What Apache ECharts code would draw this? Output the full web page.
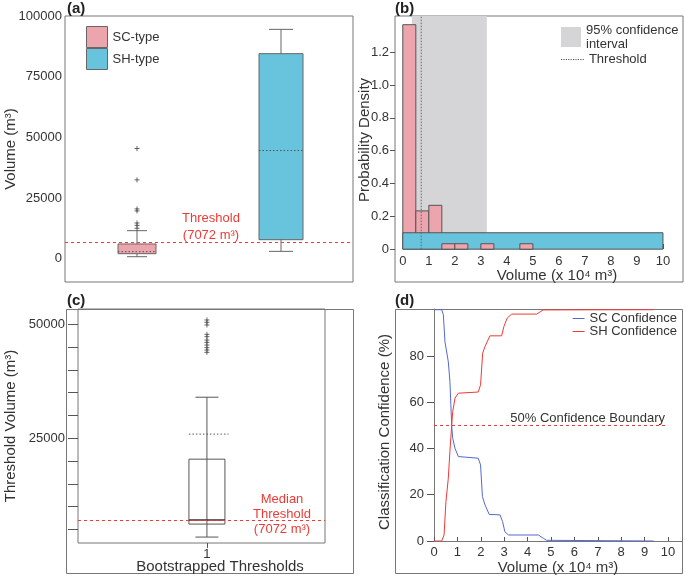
<!DOCTYPE html>
<html>
<head>
<meta charset="utf-8">
<script src="https://cdn.jsdelivr.net/npm/echarts@6/dist/echarts.min.js"></script>
<style>
  html, body { margin: 0; padding: 0; background: #fff; }
  #main { width: 685px; height: 577px; }
</style>
</head>
<body>
<div id="main"></div>
<script>
// ---- (a) volume box plots, [min, q1, median, q3, max]
const typeNames = ['SC-type', 'SH-type'];
const scBox = [820, 2060, 2890, 6070, 11550];
const shBox = [3030, 7840, 44570, 84480, 94500];
const scOutliers = [45400, 32480, 20500, 19680, 14720, 13750, 12520];
const threshold = 7072;
const volTicks = [0, 25000, 50000, 75000, 100000];

// ---- (b) histograms (x 10^4 m3)
const scBinStart = [0, 0.5, 1.0, 1.5, 2.0, 2.5, 3.0, 3.5, 4.0, 4.5];
const scBinEnd = [0.5, 1.0, 1.5, 2.0, 2.5, 3.0, 3.5, 4.0, 4.5, 5.0];
const scDensity = [1.367, 0.233, 0.267, 0.033, 0.033, 0, 0.033, 0, 0, 0.033];
const shBinStart = [0];
const shBinEnd = [10];
const shDensity = [0.1];
const ciBand = [0.35, 3.23];
const densityTicks = [0, 0.2, 0.4, 0.6, 0.8, 1.0, 1.2];
const volume4Ticks = [0, 1, 2, 3, 4, 5, 6, 7, 8, 9, 10];

// ---- (c) bootstrapped thresholds
const bootBox = [3300, 6150, 7072, 20400, 34000];
const bootMean = 25900;
const bootOutliers = [50950, 50440, 49850, 47800, 47280, 46550, 46040, 45450, 44870, 44360, 43850];
const bootTicks = [5000, 10000, 15000, 20000, 25000, 30000, 35000, 40000, 45000, 50000];
const bootLabels = [25000, 50000];

// ---- (d) classification confidence vs volume (x 10^4 m3)
const scConfX = [0.04, 0.33, 0.4, 0.47, 0.61, 0.68, 0.72, 0.755, 0.8, 0.9, 1.04, 1.11, 1.89, 1.99, 2.07, 2.18, 2.36, 2.82, 2.93, 3.03, 3.18, 4.46, 4.67, 4.81, 9.39];
const scConf  = [100, 100, 97.8, 86, 77.6, 69, 59, 50, 44.4, 40, 36.5, 35.8, 35.8, 32.9, 19.2, 15.6, 11.5, 11.3, 8.4, 4.0, 2.6, 2.6, 1.2, 0.3, 0];
const shConfX = [0, 0.33, 0.43, 0.51, 0.61, 0.68, 0.755, 0.8, 0.9, 1.04, 1.11, 1.89, 1.99, 2.08, 2.18, 2.39, 2.89, 2.99, 3.13, 3.32, 4.39, 4.67, 9.39];
const shConf  = [0, 0, 2.6, 17, 27, 38.7, 50, 56, 61.8, 63.9, 64.4, 64.4, 67.5, 81.2, 84.1, 88.7, 88.7, 92.8, 96.4, 98.1, 98.1, 99.9, 100];
const confTicks = [0, 20, 40, 60, 80];
const boundary = [0, 10, 50]; // from x, to x, at y

const pink = '#eca5ad', blue = '#68c3dc', edge = '#666', red = '#ee3a35', scBlue = '#5468d0', txt = '#333';
const yMaxB = 1.42;
const font = 'Liberation Sans, Arial';

function boxItem(opt) {
  return function (params, api) {
    const x = api.value(0);
    const p = [1, 2, 3, 4, 5].map(i => api.coord([x, api.value(i)]));
    const cx = p[0][0], hw = opt.width / 2, cw = opt.cap / 2;
    const ls = { stroke: opt.line, lineWidth: 1 };
    const kids = [
      { type: 'line', shape: { x1: cx, y1: p[0][1], x2: cx, y2: p[4][1] }, style: ls },
      { type: 'line', shape: { x1: cx - cw, y1: p[0][1], x2: cx + cw, y2: p[0][1] }, style: ls },
      { type: 'line', shape: { x1: cx - cw, y1: p[4][1], x2: cx + cw, y2: p[4][1] }, style: ls },
      { type: 'rect', shape: { x: cx - hw, y: p[3][1], width: 2 * hw, height: p[1][1] - p[3][1] },
        style: { fill: opt.fill, stroke: opt.line, lineWidth: 1 } },
      { type: 'line', shape: { x1: cx - hw, y1: p[2][1], x2: cx + hw, y2: p[2][1] },
        style: { stroke: opt.median, lineWidth: opt.medianWidth || 1, lineDash: opt.medianDash } }
    ];
    if (api.value(6) != null && !isNaN(api.value(6))) {
      const m = api.coord([x, api.value(6)]);
      kids.push({ type: 'line', shape: { x1: cx - hw, y1: m[1], x2: cx + hw * 1.2, y2: m[1] },
        style: { stroke: '#555', lineWidth: 1, lineDash: [1.5, 2] } });
    }
    return { type: 'group', children: kids };
  };
}

function histItem(fill) {
  return function (params, api) {
    if (!api.value(2)) return null;
    const a = api.coord([api.value(0), api.value(2)]);
    const b = api.coord([api.value(1), 0]);
    return { type: 'rect', shape: { x: a[0], y: a[1], width: b[0] - a[0], height: b[1] - a[1] },
      style: { fill: fill, stroke: '#555', lineWidth: 1 } };
  };
}

// dashed red reference line: data item [fromX, toX, y]; full = span whole grid
function refLine(opt) {
  return function (params, api) {
    const cs = params.coordSys;
    const a = api.coord([api.value(0), api.value(2)]);
    const b = api.coord([api.value(1), api.value(2)]);
    const y = Math.round(a[1]) + 0.5;
    const x1 = opt.full ? cs.x : a[0];
    const x2 = opt.full ? cs.x + cs.width : b[0];
    const kids = [{ type: 'line', shape: { x1: x1, y1: y, x2: x2, y2: y },
      style: { stroke: red, lineWidth: 1, lineDash: [3, 3] } }];
    if (opt.text) {
      const tx = opt.align === 'right' ? x2 - 3 : (x1 + x2) / 2 + 2;
      kids.push({ type: 'text', x: tx, y: y + 1,
        style: { text: opt.text, fill: opt.color, fontSize: 13, fontFamily: font,
          align: opt.align || 'center', verticalAlign: 'bottom', lineHeight: opt.lineHeight || 16 } });
    }
    return { type: 'group', children: kids };
  };
}

const scHist = scBinStart.map((s, i) => [s, scBinEnd[i], scDensity[i]]);
const shHist = shBinStart.map((s, i) => [s, shBinEnd[i], shDensity[i]]);
const plusSymbol = 'path://M5 0L5 10M0 5L10 5';
const lineIcon = 'path://M0 0L12 0L12 1L0 1Z';
const dotIcon = 'path://M0 0h1.2v1h-1.2zM2.4 0h1.2v1h-1.2zM4.8 0h1.2v1h-1.2zM7.2 0h1.2v1h-1.2zM9.6 0h1.2v1h-1.2zM12 0h1.2v1h-1.2zM14.4 0h1.2v1h-1.2zM16.8 0h1.2v1h-1.2zM19.2 0h1.2v1h-1.2zM21.6 0h1.2v1h-1.2z';

const tickLabel = { fontSize: 13, color: txt, fontFamily: font };
const nameStyle = { fontSize: 15, color: txt, fontFamily: font };
const tickLine = { lineStyle: { color: '#555' } };
const gridBase = { show: true, borderColor: '#777', borderWidth: 1, backgroundColor: 'transparent', outerBoundsMode: 'none' };
const titleFont = { fontSize: 15, fontWeight: 'bold', color: '#222' };

const option = {
  animation: false,
  textStyle: { fontFamily: font },
  title: [
    { text: '(a)', left: 67, top: 1, padding: 0, textStyle: titleFont },
    { text: '(b)', left: 395, top: 1, padding: 0, textStyle: titleFont },
    { text: '(c)', left: 67, top: 293, padding: 0, textStyle: titleFont },
    { text: '(d)', left: 395, top: 293, padding: 0, textStyle: titleFont }
  ],
  legend: [
    { data: typeNames.map((n, i) => ({ name: n, icon: 'rect',
        itemStyle: { color: i ? blue : pink, borderColor: edge, borderWidth: 1 } })),
      orient: 'vertical', left: 86, top: 26, itemWidth: 21, itemHeight: 21, itemGap: 0, padding: 0,
      textStyle: { fontSize: 13, color: txt } },
    { data: [{ name: '95% confidence\ninterval', icon: 'rect', itemStyle: { color: '#d5d5d7' } }],
      left: 561, top: 23, itemWidth: 20, itemHeight: 20, padding: 0,
      textStyle: { fontSize: 13, color: txt, lineHeight: 14 } },
    { data: [{ name: 'Threshold', icon: dotIcon, itemStyle: { color: '#555' } }],
      left: 561, top: 53, itemWidth: 23, itemHeight: 1, padding: 0,
      textStyle: { fontSize: 13, color: txt } },
    { data: [{ name: 'SC Confidence', icon: lineIcon, itemStyle: { color: scBlue } },
             { name: 'SH Confidence', icon: lineIcon, itemStyle: { color: red } }],
      orient: 'vertical', right: 8, top: 312,
      itemWidth: 12, itemHeight: 1, itemGap: 0, padding: 0, textStyle: { fontSize: 13, color: txt } }
  ],
  grid: [
    Object.assign({ left: 65, top: 16, width: 288, height: 266 }, gridBase),
    Object.assign({ left: 395, top: 16, width: 288, height: 266 }, gridBase),
    Object.assign({ left: 78, top: 309, width: 247, height: 234 }, gridBase),
    { left: 434, top: 309, width: 248, height: 232, show: false, outerBoundsMode: 'none' }
  ],
  graphic: [
    { type: 'rect', shape: { x: 66.5, y: 309.5, width: 287, height: 264 }, style: { fill: 'none', stroke: '#777', lineWidth: 1 }, silent: true },
    { type: 'rect', shape: { x: 395.5, y: 309.5, width: 287, height: 264 }, style: { fill: 'none', stroke: '#777', lineWidth: 1 }, silent: true }
  ],
  xAxis: [
    { gridIndex: 0, type: 'category', data: typeNames, show: false },
    { gridIndex: 1, type: 'value', min: -0.3, max: 10.77, offset: -33, splitLine: { show: false },
      axisLine: { show: false, onZero: false },
      axisTick: Object.assign({ inside: true, length: 5, customValues: volume4Ticks }, tickLine),
      axisLabel: Object.assign({ margin: 6, customValues: volume4Ticks }, tickLabel),
      name: 'Volume (x 10\u2074 m\u00b3)', nameLocation: 'middle', nameGap: 19, nameMoveOverlap: false,
      nameTextStyle: Object.assign({ padding: [0, 0, 0, 36] }, nameStyle) },
    { gridIndex: 2, type: 'value', min: 0.478, max: 1.478, splitLine: { show: false },
      axisLine: { show: false, onZero: false },
      axisTick: Object.assign({ length: 5, customValues: [1] }, tickLine),
      axisLabel: Object.assign({ margin: 5, customValues: [1] }, tickLabel),
      name: 'Bootstrapped Thresholds', nameLocation: 'middle', nameGap: 16, nameMoveOverlap: false,
      nameTextStyle: Object.assign({ padding: [0, 0, 0, 37] }, nameStyle) },
    { gridIndex: 3, type: 'value', min: 0, max: 10.6, splitLine: { show: false },
      axisLine: { show: true, onZero: false, lineStyle: { color: '#777' } },
      axisTick: Object.assign({ inside: true, length: 4, customValues: volume4Ticks }, tickLine),
      axisLabel: Object.assign({ margin: 5, customValues: volume4Ticks }, tickLabel),
      name: 'Volume (x 10\u2074 m\u00b3)', nameLocation: 'middle', nameGap: 19, nameMoveOverlap: false,
      nameTextStyle: nameStyle }
  ],
  yAxis: [
    { gridIndex: 0, type: 'value', min: -9600, max: 100000, splitLine: { show: false },
      axisLine: { show: false },
      axisTick: Object.assign({ length: 4, customValues: volTicks }, tickLine),
      axisLabel: Object.assign({ margin: 3, customValues: volTicks, formatter: v => String(v) }, tickLabel),
      name: 'Volume (m\u00b3)', nameLocation: 'middle', nameGap: 47, nameMoveOverlap: false, nameTextStyle: nameStyle },
    { gridIndex: 1, type: 'value', min: -0.2, max: yMaxB, splitLine: { show: false },
      axisLine: { show: false, onZero: false },
      axisTick: Object.assign({ length: 5, customValues: densityTicks }, tickLine),
      axisLabel: Object.assign({ margin: 6, customValues: densityTicks,
        formatter: v => (v === 0 ? '0' : v.toFixed(1)) }, tickLabel),
      name: 'Probability Density', nameLocation: 'middle', nameGap: 23, nameMoveOverlap: false,
      nameTextStyle: Object.assign({ padding: [0, 0, 0, 18] }, nameStyle) },
    { gridIndex: 2, type: 'value', min: 2000, max: 53360, splitLine: { show: false },
      axisLine: { show: false, onZero: false },
      axisTick: Object.assign({ length: 10, customValues: bootTicks }, tickLine),
      axisLabel: Object.assign({ margin: 13, customValues: bootLabels, formatter: v => String(v) }, tickLabel),
      name: 'Threshold Volume (m\u00b3)', nameLocation: 'middle', nameGap: 60, nameMoveOverlap: false, nameTextStyle: nameStyle },
    { gridIndex: 3, type: 'value', min: 0, max: 100.3, splitLine: { show: false },
      axisLine: { show: true, onZero: false, lineStyle: { color: '#777' } },
      axisTick: Object.assign({ length: 7, customValues: confTicks }, tickLine),
      axisLabel: Object.assign({ margin: 10, customValues: confTicks }, tickLabel),
      name: 'Classification Confidence (%)', nameLocation: 'middle', nameGap: 42, nameMoveOverlap: false,
      nameTextStyle: Object.assign({ padding: [0, 14, 0, 0] }, nameStyle) }
  ],
  series: [
    // (a)
    { name: 'SC-type', type: 'custom', xAxisIndex: 0, yAxisIndex: 0, itemStyle: { color: pink },
      renderItem: boxItem({ width: 38, cap: 20, fill: pink, line: edge, median: '#555', medianDash: [1.5, 2] }),
      data: [[0].concat(scBox)] },
    { name: 'SH-type', type: 'custom', xAxisIndex: 0, yAxisIndex: 0, itemStyle: { color: blue },
      renderItem: boxItem({ width: 44, cap: 24, fill: blue, line: edge, median: '#555', medianDash: [1.5, 2] }),
      data: [[1].concat(shBox)] },
    { name: 'SC outliers', type: 'scatter', xAxisIndex: 0, yAxisIndex: 0, symbol: plusSymbol, symbolSize: 5,
      itemStyle: { color: 'none', borderColor: '#444', borderWidth: 1 },
      data: scOutliers.map(v => [typeNames[0], v]) },
    { name: 'Threshold a', type: 'custom', xAxisIndex: 0, yAxisIndex: 0, silent: true,
      renderItem: refLine({ full: true, text: 'Threshold\n(7072 m\u00b3)', color: red, lineHeight: 17 }),
      data: [[0, 1, threshold]] },
    // (b)
    { name: '95% confidence\ninterval', type: 'custom', xAxisIndex: 1, yAxisIndex: 1, itemStyle: { color: '#d5d5d7' },
      renderItem: function (params, api) {
        const a = api.coord([api.value(0), 0]);
        const b = api.coord([api.value(1), 0]);
        const top = params.coordSys.y;
        return { type: 'rect', shape: { x: a[0], y: top, width: b[0] - a[0], height: a[1] - top },
          style: { fill: '#d5d5d7' } };
      },
      data: [ciBand] },
    { name: 'SC histogram', type: 'custom', xAxisIndex: 1, yAxisIndex: 1, renderItem: histItem(pink), data: scHist },
    { name: 'SH histogram', type: 'custom', xAxisIndex: 1, yAxisIndex: 1, renderItem: histItem(blue), data: shHist },
    { name: 'SC histogram low', type: 'custom', xAxisIndex: 1, yAxisIndex: 1, renderItem: histItem(pink),
      data: scHist.filter(d => d[2] < shDensity[0]) },
    { name: 'Threshold', type: 'line', xAxisIndex: 1, yAxisIndex: 1, symbol: 'none', silent: true,
      itemStyle: { color: '#555' }, lineStyle: { color: '#666', width: 1, type: [1.5, 1.5] },
      data: [[threshold / 10000, 0], [threshold / 10000, yMaxB]] },
    // (c)
    { name: 'Bootstrap', type: 'custom', xAxisIndex: 2, yAxisIndex: 2,
      renderItem: boxItem({ width: 36, cap: 23, fill: 'none', line: '#555', median: '#333', medianWidth: 1.5 }),
      data: [[1].concat(bootBox, [bootMean])] },
    { name: 'Threshold c', type: 'custom', xAxisIndex: 2, yAxisIndex: 2, silent: true,
      renderItem: refLine({ full: true }), data: [[1, 1, threshold]],
      markPoint: { silent: true, symbol: 'rect', symbolSize: 0,
        data: [{ coord: [1.304, threshold] }],
        label: { show: true, position: 'inside', offset: [0, -5], color: red, fontSize: 13, lineHeight: 15,
          formatter: 'Median\nThreshold\n(7072 m\u00b3)' } } },
    { name: 'Boot outliers', type: 'scatter', xAxisIndex: 2, yAxisIndex: 2, symbol: plusSymbol, symbolSize: 5,
      itemStyle: { color: 'none', borderColor: '#444', borderWidth: 1 },
      data: bootOutliers.map(v => [1, v]) },
    // (d)
    { name: 'Boundary', type: 'custom', xAxisIndex: 3, yAxisIndex: 3, silent: true,
      renderItem: refLine({ text: '50% Confidence Boundary', color: txt, align: 'right' }),
      data: [boundary] },
    { name: 'SC Confidence', type: 'line', xAxisIndex: 3, yAxisIndex: 3, symbol: 'none',
      itemStyle: { color: scBlue }, lineStyle: { color: scBlue, width: 1 },
      data: scConfX.map((x, i) => [x, scConf[i]]) },
    { name: 'SH Confidence', type: 'line', xAxisIndex: 3, yAxisIndex: 3, symbol: 'none',
      itemStyle: { color: red }, lineStyle: { color: red, width: 1 },
      data: shConfX.map((x, i) => [x, shConf[i]]) }
  ]
};

const chart = echarts.init(document.getElementById('main'), null, { renderer: 'canvas' });
chart.setOption(option);
</script>
</body>
</html>
